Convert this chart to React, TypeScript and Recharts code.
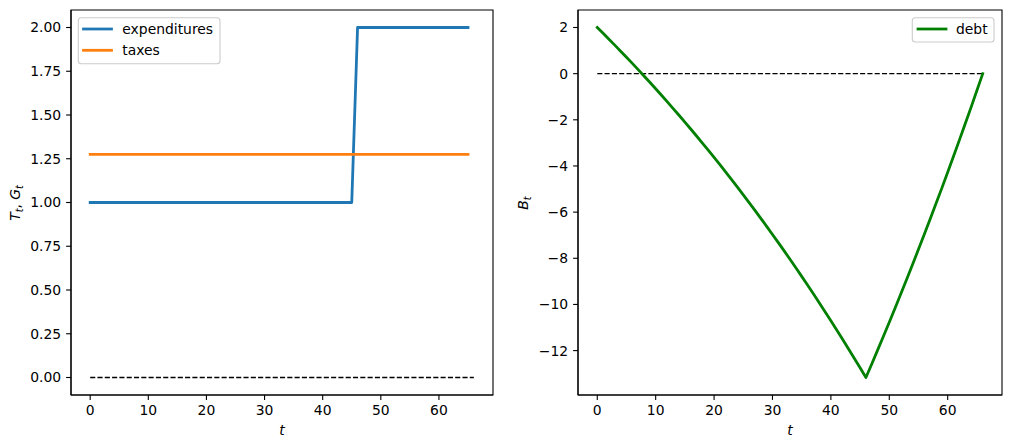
import React from 'react';
import { LineChart, Line, XAxis, YAxis, ReferenceLine, ReferenceArea } from 'recharts';

// categories (time periods)
const T_VALUES = [
  0, 1, 2, 3, 4, 5, 6, 7, 8, 9, 10, 11, 12, 13, 14, 15, 16, 17, 18, 19, 20,
  21, 22, 23, 24, 25, 26, 27, 28, 29, 30, 31, 32, 33, 34, 35, 36, 37, 38, 39, 40,
  41, 42, 43, 44, 45, 46, 47, 48, 49, 50, 51, 52, 53, 54, 55, 56, 57, 58, 59, 60,
  61, 62, 63, 64, 65, 66,
];

// expenditures G_t, t = 0..65
const EXPENDITURES = [
  1, 1, 1, 1, 1, 1, 1, 1, 1, 1, 1, 1, 1, 1, 1, 1, 1, 1, 1, 1,
  1, 1, 1, 1, 1, 1, 1, 1, 1, 1, 1, 1, 1, 1, 1, 1, 1, 1, 1, 1,
  1, 1, 1, 1, 1, 1, 2, 2, 2, 2, 2, 2, 2, 2, 2, 2, 2, 2, 2, 2,
  2, 2, 2, 2, 2, 2,
];

// taxes T_t, t = 0..65
const TAXES = [
  1.275, 1.275, 1.275, 1.275, 1.275, 1.275, 1.275, 1.275, 1.275, 1.275,
  1.275, 1.275, 1.275, 1.275, 1.275, 1.275, 1.275, 1.275, 1.275, 1.275,
  1.275, 1.275, 1.275, 1.275, 1.275, 1.275, 1.275, 1.275, 1.275, 1.275,
  1.275, 1.275, 1.275, 1.275, 1.275, 1.275, 1.275, 1.275, 1.275, 1.275,
  1.275, 1.275, 1.275, 1.275, 1.275, 1.275, 1.275, 1.275, 1.275, 1.275,
  1.275, 1.275, 1.275, 1.275, 1.275, 1.275, 1.275, 1.275, 1.275, 1.275,
  1.275, 1.275, 1.275, 1.275, 1.275, 1.275,
];

// debt B_t, t = 0..66
const DEBT = [
  2.0, 1.748, 1.493, 1.235, 0.974, 0.711, 0.444, 0.174, -0.099, -0.375,
  -0.655, -0.937, -1.223, -1.512, -1.804, -2.1, -2.399, -2.702, -3.008, -3.318,
  -3.631, -3.947, -4.268, -4.592, -4.92, -5.251, -5.587, -5.926, -6.269, -6.616,
  -6.967, -7.322, -7.681, -8.045, -8.412, -8.784, -9.16, -9.54, -9.925, -10.314,
  -10.707, -11.106, -11.508, -11.916, -12.328, -12.744, -13.166, -12.58, -11.98, -11.38,
  -10.77, -10.15, -9.53, -8.9, -8.26, -7.61, -6.96, -6.3, -5.63, -4.96,
  -4.27, -3.58, -2.88, -2.17, -1.46, -0.73, 0.0,
];

const X_TICKS = [0, 10, 20, 30, 40, 50, 60];
const LEFT_Y_TICKS = [0, 0.25, 0.5, 0.75, 1.0, 1.25, 1.5, 1.75, 2.0];
const RIGHT_Y_TICKS = [-12, -10, -8, -6, -4, -2, 0, 2];

const leftData = EXPENDITURES.map((g, i) => ({ t: T_VALUES[i], expenditures: g, taxes: TAXES[i] }));
const rightData = DEBT.map((b, i) => ({ t: T_VALUES[i], debt: b }));

const FONT = 'DejaVu Sans';
const FS = 13.9;
const tickStyle = { fill: '#000', fontSize: FS, fontFamily: FONT };
const tickLineStyle = { stroke: '#000', strokeWidth: 1.1 };
const axisLineStyle = { stroke: '#000', strokeWidth: 1.1 };

const fmtLeft = (v: number) => v.toFixed(2);
const fmtRight = (v: number) => (v < 0 ? '\u2212' + String(Math.abs(v)) : String(v));

export default function App() {
  return (
    <div style={{ position: 'absolute', left: 0, top: 0, width: 1010, height: 448, background: '#fff' }}>
      <div style={{ position: 'absolute', left: 0, top: 0 }}>
        <LineChart width={500} height={448} data={leftData} margin={{ top: 10, right: 7, left: 0, bottom: 0 }}>
          <XAxis
            dataKey="t"
            type="number"
            domain={[-3.3, 69.3]}
            allowDataOverflow
            ticks={X_TICKS}
            height={53}
            tick={tickStyle}
            tickLine={tickLineStyle}
            axisLine={axisLineStyle}
            tickSize={4.9}
            tickMargin={5}
          />
          <YAxis
            type="number"
            domain={[-0.1, 2.1]}
            allowDataOverflow
            ticks={LEFT_Y_TICKS}
            tickFormatter={fmtLeft}
            width={71}
            tick={tickStyle}
            tickLine={tickLineStyle}
            axisLine={axisLineStyle}
            tickSize={4.9}
            tickMargin={5}
          />
          <ReferenceArea x1={-3.3} x2={69.3} y1={-0.1} y2={2.1} fill="none" stroke="#000" strokeWidth={1.1} ifOverflow="visible" />
          <ReferenceLine
            segment={[{ x: 0, y: 0 }, { x: 66, y: 0 }]}
            stroke="#000"
            strokeWidth={1.39}
            strokeDasharray="5.1 2.2"
            ifOverflow="visible"
          />
          <Line dataKey="expenditures" type="linear" stroke="#1f77b4" strokeWidth={2.78} dot={false} activeDot={false} isAnimationActive={false} strokeLinecap="square" strokeLinejoin="round" />
          <Line dataKey="taxes" type="linear" stroke="#ff7f0e" strokeWidth={2.78} dot={false} activeDot={false} isAnimationActive={false} strokeLinecap="square" strokeLinejoin="round" />
        </LineChart>
      </div>
      <div style={{ position: 'absolute', left: 500, top: 0 }}>
        <LineChart width={510} height={448} data={rightData} margin={{ top: 10, right: 8, left: 0, bottom: 0 }}>
          <XAxis
            dataKey="t"
            type="number"
            domain={[-3.3, 69.3]}
            allowDataOverflow
            ticks={X_TICKS}
            height={53}
            tick={tickStyle}
            tickLine={tickLineStyle}
            axisLine={axisLineStyle}
            tickSize={4.9}
            tickMargin={5}
          />
          <YAxis
            type="number"
            domain={[-13.924, 2.758]}
            allowDataOverflow
            ticks={RIGHT_Y_TICKS}
            tickFormatter={fmtRight}
            width={78}
            tick={tickStyle}
            tickLine={tickLineStyle}
            axisLine={axisLineStyle}
            tickSize={4.9}
            tickMargin={5}
          />
          <ReferenceArea x1={-3.3} x2={69.3} y1={-13.924} y2={2.758} fill="none" stroke="#000" strokeWidth={1.1} ifOverflow="visible" />
          <ReferenceLine
            segment={[{ x: 0, y: 0 }, { x: 66, y: 0 }]}
            stroke="#000"
            strokeWidth={1.39}
            strokeDasharray="5.1 2.2"
            ifOverflow="visible"
          />
          <Line dataKey="debt" type="linear" stroke="#008000" strokeWidth={2.78} dot={false} activeDot={false} isAnimationActive={false} strokeLinecap="square" strokeLinejoin="round" />
        </LineChart>
      </div>
      <svg
        width={1010}
        height={448}
        style={{ position: 'absolute', left: 0, top: 0, pointerEvents: 'none' }}
        fontFamily={FONT}
        fontSize={FS}
      >
        {/* left legend */}
        <rect x={78.3} y={17.7} width={141.7} height={46} rx={3} ry={3} fill="#fff" fillOpacity={0.8} stroke="#cccccc" strokeWidth={1.1} />
        <line x1={83.5} y1={29} x2={111.5} y2={29} stroke="#1f77b4" strokeWidth={2.78} strokeLinecap="square" />
        <text x={122.3} y={33.5} fill="#000">expenditures</text>
        <line x1={83.5} y1={50.3} x2={111.5} y2={50.3} stroke="#ff7f0e" strokeWidth={2.78} strokeLinecap="square" />
        <text x={122.3} y={54.8} fill="#000">taxes</text>

        {/* right legend */}
        <rect x={912.3} y={17.7} width={81.7} height={24.3} rx={3} ry={3} fill="#fff" fillOpacity={0.8} stroke="#cccccc" strokeWidth={1.1} />
        <line x1={918} y1={29} x2={946} y2={29} stroke="#008000" strokeWidth={2.78} strokeLinecap="square" />
        <text x={956} y={33.5} fill="#000">debt</text>

        {/* axis labels */}
        <text x={282} y={435} textAnchor="middle" fontStyle="italic" fill="#000">t</text>
        <text x={790} y={435} textAnchor="middle" fontStyle="italic" fill="#000">t</text>
        <text transform="translate(20,203) rotate(-90)" textAnchor="middle" fill="#000">
          <tspan fontStyle="italic">T</tspan>
          <tspan fontStyle="italic" fontSize={9.7} dy={2.5}>t</tspan>
          <tspan dy={-2.5}>, </tspan>
          <tspan fontStyle="italic">G</tspan>
          <tspan fontStyle="italic" fontSize={9.7} dy={2.5}>t</tspan>
        </text>
        <text transform="translate(528,203) rotate(-90)" textAnchor="middle" fill="#000">
          <tspan fontStyle="italic">B</tspan>
          <tspan fontStyle="italic" fontSize={9.7} dy={2.5}>t</tspan>
        </text>
      </svg>
    </div>
  );
}
